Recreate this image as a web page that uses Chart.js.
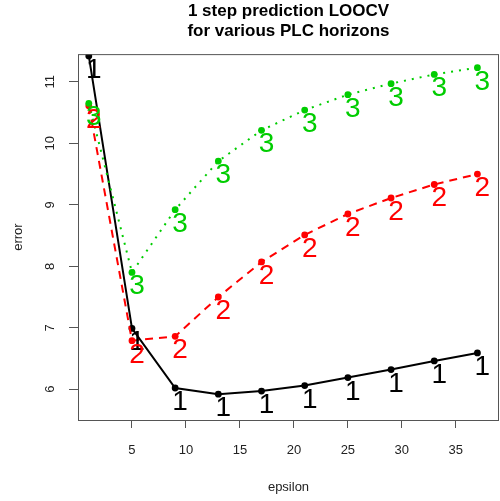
<!DOCTYPE html>
<html>
<head>
<meta charset="utf-8">
<script src="https://cdn.jsdelivr.net/npm/chart.js@4"></script>
<style>
  html, body { margin: 0; padding: 0; background: #fff; overflow: hidden; }
  #wrap { width: 500px; height: 501px; }
</style>
</head>
<body>
<div id="wrap"><canvas id="chart"></canvas></div>
<script>
// ─── DATA ─────────────────────────────────────────────────────────────────────
const epsilon  = [1, 5, 9, 13, 17, 21, 25, 29, 33, 37];
const horizon1 = [11.42, 6.99, 6.02, 5.92, 5.97, 6.06, 6.19, 6.32, 6.46, 6.59];
const horizon2 = [10.61, 6.79, 6.86, 7.50, 8.07, 8.51, 8.85, 9.11, 9.33, 9.50];
const horizon3 = [10.65, 7.90, 8.92, 9.71, 10.21, 10.54, 10.79, 10.97, 11.12, 11.23];
const seriesLabels = ['1', '2', '3'];
const xTicks = [5, 10, 15, 20, 25, 30, 35];
const yTicks = [6, 7, 8, 9, 10, 11];

const FONT = "'Liberation Sans', Arial, sans-serif";
Chart.defaults.font.family = FONT;
Chart.defaults.color = '#222';

const pts = xs => ys => xs.map((x, i) => ({ x, y: ys[i] }));
const onEps = pts(epsilon);

// box round the plot, rotated y tick labels and the 1/2/3 text marks
const rStyle = {
  id: 'rStyle',
  afterDatasetsDraw(chart) {
    const { ctx, chartArea: a, scales: { y } } = chart;
    ctx.save();
    ctx.strokeStyle = '#555';
    ctx.lineWidth = 1;
    ctx.strokeRect(a.left + 0.5, a.top + 0.5, a.right - a.left - 1, a.bottom - a.top);

    // text marks, same order as datasets
    ctx.font = `28px ${FONT}`;
    ctx.textAlign = 'center';
    ctx.textBaseline = 'alphabetic';
    chart.data.datasets.forEach((ds, di) => {
      const meta = chart.getDatasetMeta(di);
      ctx.fillStyle = ds.borderColor;
      meta.data.forEach(p => ctx.fillText(seriesLabels[di], p.x + 5, p.y + 22));
    });

    // y tick labels, rotated like R
    ctx.font = `13px ${FONT}`;
    ctx.fillStyle = '#222';
    ctx.textBaseline = 'middle';
    for (const v of yTicks) {
      const py = y.getPixelForValue(v);
      ctx.save();
      ctx.translate(50, py);
      ctx.rotate(-Math.PI / 2);
      ctx.fillText(String(v), 0, 0);
      ctx.restore();
    }
    ctx.restore();
  },
};

new Chart(document.getElementById('chart'), {
  type: 'line',
  data: {
    datasets: [
      {
        data: onEps(horizon1),
        borderColor: '#000000', backgroundColor: '#000000',
        borderWidth: 2, pointRadius: 3.4, pointBorderWidth: 0,
        tension: 0, order: 3,
      },
      {
        data: onEps(horizon2),
        borderColor: '#FF0000', backgroundColor: '#FF0000',
        borderWidth: 2, borderDash: [8, 6], pointRadius: 3.4, pointBorderWidth: 0,
        tension: 0, order: 2,
      },
      {
        data: onEps(horizon3),
        borderColor: '#00CD00', backgroundColor: '#00CD00',
        borderWidth: 2, borderDash: [2, 6], pointRadius: 3.4, pointBorderWidth: 0,
        tension: 0, order: 1,
      },
    ],
  },
  options: {
    responsive: true, maintainAspectRatio: false, animation: false,
    layout: { padding: { left: 0, right: 1, top: 0, bottom: 0 }, autoPadding: false },
    plugins: {
      legend: { display: false },
      tooltip: { enabled: false },
      title: {
        display: true,
        fullSize: false,
        text: ['1 step prediction LOOCV', 'for various PLC horizons'],
        font: { size: 17, weight: 'bold', lineHeight: 1.18 },
        color: '#000',
        padding: { top: 1, bottom: 13 },
      },
    },
    scales: {
      x: {
        type: 'linear', min: 0, max: 39,
        afterBuildTicks: s => { s.ticks = xTicks.map(v => ({ value: v })); },
        afterFit: s => { s.height = 81; s.paddingLeft = 0; s.paddingRight = 0; },
        grid: { drawOnChartArea: false, drawTicks: true, tickLength: 8, color: '#555' },
        border: { display: false },
        ticks: { font: { size: 13 }, padding: 15, maxRotation: 0, autoSkip: false, color: '#222' },
        title: { display: true, text: 'epsilon', font: { size: 13 }, color: '#222', padding: { top: 4, bottom: 6 } },
      },
      y: {
        type: 'linear', min: 5.5, max: 11.45,
        afterBuildTicks: s => { s.ticks = yTicks.map(v => ({ value: v })); },
        afterFit: s => { s.width = 78; },
        grid: { drawOnChartArea: false, drawTicks: true, tickLength: 9, color: '#555' },
        border: { display: false },
        ticks: { display: false },
        title: { display: true, text: 'error', font: { size: 13 }, color: '#222', padding: { top: 11, bottom: 4 } },
      },
    },
  },
  plugins: [rStyle],
});
</script>
</body>
</html>
